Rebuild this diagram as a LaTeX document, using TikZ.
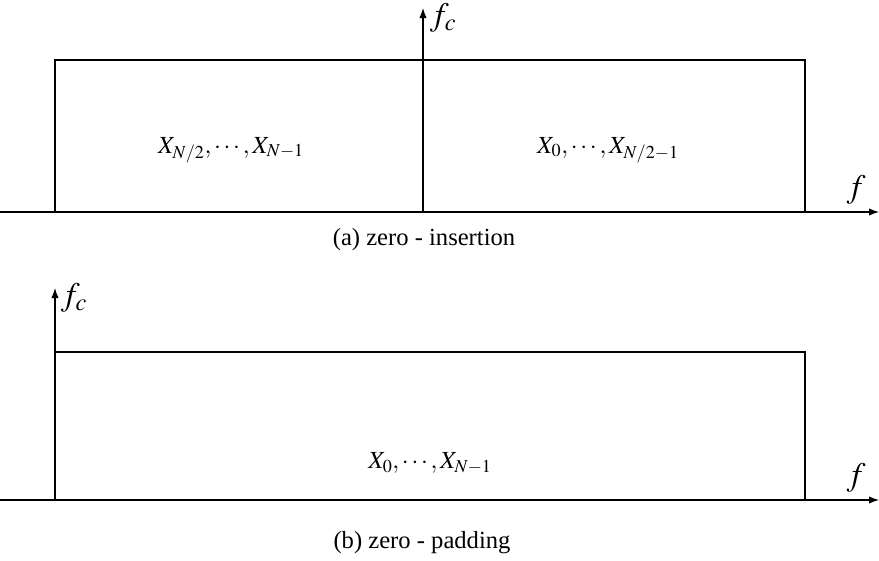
\documentclass[tikz,border=0pt]{standalone}
\usepackage{mathptmx}
\usepackage{fontspec}
\setmainfont{Liberation Serif}
\usetikzlibrary{arrows.meta, positioning, calc}
\tikzset{
    axis/.style={-{Latex[length=3mm, width=2.2mm]}, line width=1pt},
    band/.style={line width=1pt},
    lbl/.style={font=\fontsize{21}{23}\selectfont, inner sep=0pt},
    axlbl/.style={font=\fontsize{28}{30}\selectfont, inner sep=0pt},
    captxt/.style={font=\fontsize{21}{24}\selectfont, inner sep=0pt},
}

\begin{document}
\begin{tikzpicture}[x=0.03cm, y=-0.03cm]
        \useasboundingbox (0,0) rectangle (879,560);

        % (a) zero-insertion
        \coordinate (a0) at (0,212);
        \coordinate (a1) at (879,212);
        \coordinate (ac) at (423,212);
        \coordinate (act) at (423,8);
        \draw[axis] (a0) -- (a1);
        \draw[axis] (ac) -- (act);
        \draw[band] (55,212) |- (805,60) -- (805,212);
        \node[axlbl] (afc) at (443,18) {$f_c$};
        \node[axlbl] (af) at (856,190) {$f$};
        \node[lbl] (aleft) at (231,150) {$X_{N/2},\cdots,X_{N-1}$};
        \node[lbl] (aright) at (608,150) {$X_{0},\cdots,X_{N/2-1}$};
        \node[captxt] (acap) at (424,240) {(a) zero - insertion};

        % (b) zero-padding
        \coordinate (b0) at (0,500);
        \coordinate (b1) at (879,500);
        \coordinate (bc) at (55,500);
        \coordinate (bct) at (55,288);
        \draw[axis] (b0) -- (b1);
        \draw[axis] (bc) -- (bct);
        \draw[band] (55,352) -| (805,500);
        \node[axlbl] (bfc) at (74,298) {$f_c$};
        \node[axlbl] (bf) at (856,478) {$f$};
        \node[lbl] (bmid) at (430,463) {$X_{0},\cdots,X_{N-1}$};
        \node[captxt] (bcap) at (422,543) {(b) zero - padding};
\end{tikzpicture}
\end{document}
